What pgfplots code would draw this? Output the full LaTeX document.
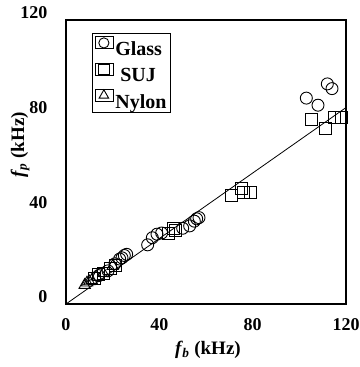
\documentclass[border=0pt]{standalone}
\usepackage{fontspec}
\setmainfont{Liberation Serif}
\usepackage{pgfplots}
\pgfplotsset{compat=1.18}
\begin{document}
\begin{tikzpicture}
\begin{axis}[
  at={(0,0)}, anchor=south west,
  scale only axis,
  width=280pt, height=284pt,
  xmin=0, xmax=120, ymin=0, ymax=120,
  xtick={0,40,80,120}, ytick={0,40,80,120},
  major tick length=0pt,
  axis line style={line width=1.1pt},
  tick label style={font=\fontsize{18}{18}\selectfont\bfseries},
  /pgf/number format/assume math mode=true,
  xticklabel style={anchor=north, yshift=-11pt},
  yticklabel style={anchor=east, xshift=-15pt, yshift=7pt},
  xlabel={\bfseries\itshape f\kern1pt\textsubscript{b}\upshape\ (kHz)},
  ylabel={\bfseries\itshape f\kern1pt\textsubscript{p}\upshape\ (kHz)},
  label style={font=\fontsize{19}{19}\selectfont\bfseries},
  xlabel style={at={(rel axis cs:0.507,-0.162)}, anchor=center},
  ylabel style={at={(rel axis cs:-0.164,0.56)}, anchor=center},
  legend style={at={(0.093,0.954)}, anchor=north west,
    font=\fontsize{20}{20}\selectfont\bfseries, draw=black, line width=0.8pt,
    inner xsep=3pt, inner ysep=3pt, row sep=6pt,
    nodes={inner sep=1pt, text depth=0pt}},
  legend cell align=left,
  legend image code/.code={
    \path (0pt,0pt) rectangle (18pt,12pt);
    \draw[#1, mark options={scale=0.85}] plot coordinates {(8pt,6pt)};},
  every axis plot/.append style={line width=0.9pt},
]
% Glass spheres
\addplot[only marks, mark=o, mark size=6pt, black] coordinates {
(14,12) (18,14) (21,17) (23,19) (24,19.5) (25,20.5) (26,21)
(35,25) (37,28) (39,29.5) (41,30)
(50,32) (53,33) (55,35) (56,36) (57,36.5)
(103,87) (108,84) (112,93) (114,91)
};
\addlegendentry{Glass}
% SUJ bearing steel
\addplot[only marks, mark=square, mark size=6pt, black] coordinates {
(12,11) (14,12.5) (16,13) (19,15) (21,16.5)
(44,30) (46,32) (47,31)
(71,46) (75,49) (76,47) (79,47)
(105,78) (111,74) (115,79) (118,79)
};
\addlegendentry{\ SUJ}
% Nylon
\addplot[only marks, mark=triangle, mark size=6.5pt, black] coordinates {
(8,8) (9,9) (10,9.5) (11,10) (13,11.5) (16,13) (20,16)
};
\addlegendentry{Nylon}
% theoretical line
\addplot[black, line width=0.8pt, no marks, forget plot] coordinates {(0,0) (120,83)};
\end{axis}
\pgfresetboundingbox
\path (-66pt,-63pt) rectangle (293pt,304pt);
\end{tikzpicture}
\end{document}
